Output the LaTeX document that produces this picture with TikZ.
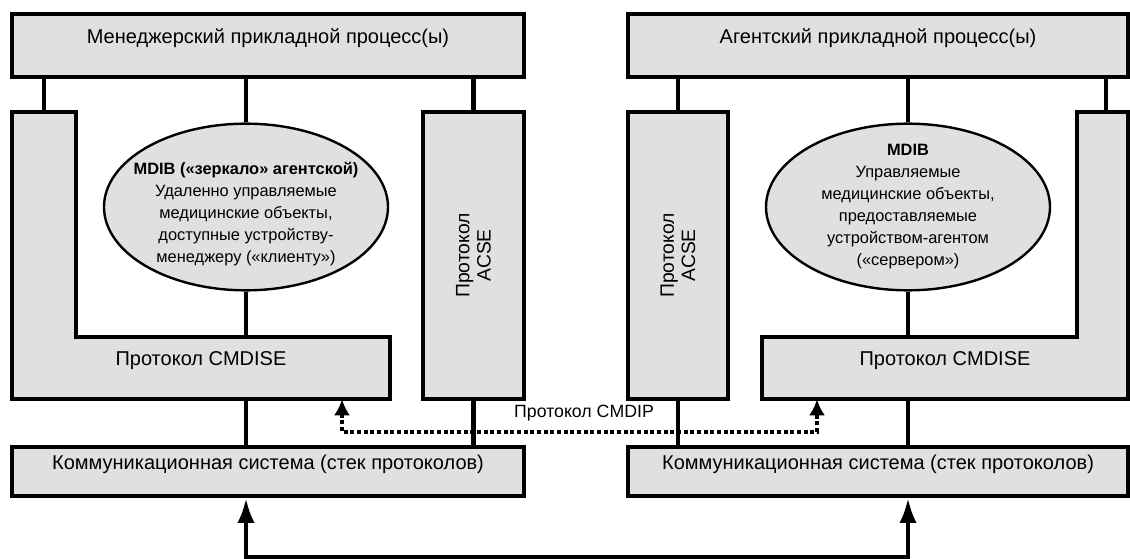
\documentclass[tikz,border=0pt]{standalone}
\usepackage{fontspec}
\setmainfont{Liberation Sans}
\usetikzlibrary{fit,shapes.geometric,arrows.meta}

\begin{document}
\begin{tikzpicture}
\tikzset{box/.style={draw=black,fill=black!12,line width=2.4pt,inner sep=0pt,font=\fontsize{15}{17}\selectfont}}
\tikzset{hidden/.style={inner sep=0pt,font=\fontsize{15}{17}\selectfont}}
\tikzset{lshape/.style={draw=black,fill=black!12,line width=2.4pt}}
\tikzset{link/.style={draw=black,line width=3.6pt}}
\tikzset{mdib/.style={ellipse,draw=black,fill=black!12,line width=1.8pt,inner sep=0pt,minimum width=213pt,minimum height=125pt}}
\tikzset{mdibtext/.style={align=center,font=\fontsize{12.3}{16.5}\selectfont}}
\tikzset{vtext/.style={rotate=90,align=center,font=\fontsize{14.5}{16}\selectfont}}
\tikzset{cmdip/.style={draw=black,line width=2.8pt,dash pattern=on 3pt off 2pt,{Latex[length=12pt,width=12pt]}-{Latex[length=12pt,width=12pt]}}}
\tikzset{bus/.style={draw=black,line width=3.6pt,{Latex[length=19pt,width=13pt]}-{Latex[length=19pt,width=13pt]}}}

\begin{scope}[x={(0.75pt,0pt)},y={(0pt,-0.75pt)}]
\useasboundingbox (0,0) rectangle (1130,559);

% manager side
\node[box,fit={(12,14) (524,77)}] (mgr) {Менеджерский прикладной процесс(ы)};
\path[lshape] (12,112) -- (76,112) -- (76,337) -- (390,337) -- (390,399) -- (12,399) -- cycle;
\node[hidden,fit={(12,112) (76,399)}] (lbarL) {};
\node[hidden,fit={(12,337) (390,399)}] (cmdseL) {Протокол CMDISE};
\node[box,fit={(423,112) (524,399)}] (acseL) {};
\node[vtext] (acseLtxt) at (acseL.center) {Протокол\\ACSE};
\node[mdib] (ellL) at (246,207) {};
\node[mdibtext] (ellLtxt) at (246,214) {\textbf{MDIB («зеркало» агентской)}\\Удаленно управляемые\\медицинские объекты,\\доступные устройству-\\менеджеру («клиенту»)};
\node[box,fit={(12,447) (524,496)}] (commL) {Коммуникационная система (стек протоколов)};

% agent side
\node[box,fit={(628,14) (1128,77)}] (agt) {Агентский прикладной процесс(ы)};
\path[lshape] (1077,112) -- (1128,112) -- (1128,399) -- (762,399) -- (762,337) -- (1077,337) -- cycle;
\coordinate (lbarR) at (1106,112);
\node[hidden,fit={(762,337) (1128,399)}] (cmdseR) {Протокол CMDISE};
\node[box,fit={(628,112) (728,399)}] (acseR) {};
\node[vtext] (acseRtxt) at (acseR.center) {Протокол\\ACSE};
\node[mdib] (ellR) at (908,207) {};
\node[mdibtext] (ellRtxt) at (908,207) {\textbf{MDIB}\\Управляемые\\медицинские объекты,\\предоставляемые\\устройством-агентом\\(«сервером»)};
\node[box,fit={(628,447) (1128,496)}] (commR) {Коммуникационная система (стек протоколов)};

% links
\path[link] (mgr.south -| lbarL.north) -- (lbarL.north);
\path[link] (mgr.south -| ellL.north) -- (ellL.north);
\path[link] (mgr.south -| acseL.north) -- (acseL.north);
\path[link] (ellL.south) -- (ellL.south |- cmdseL.north);
\path[link] (cmdseL.south -| ellL) -- (commL.north -| ellL);
\path[link] (acseL.south) -- (acseL.south |- commL.north);

\path[link] (agt.south -| lbarR) -- (lbarR);
\path[link] (agt.south -| ellR.north) -- (ellR.north);
\path[link] (agt.south -| acseR.north) -- (acseR.north);
\path[link] (ellR.south) -- (ellR.south |- cmdseR.north);
\path[link] (cmdseR.south -| ellR) -- (commR.north -| ellR);
\path[link] (acseR.south) -- (acseR.south |- commR.north);

% CMDIP
\coordinate (dotL) at (342,432);
\coordinate (dotR) at (817,432);
\path[cmdip] (cmdseL.south -| dotL) -- (dotL) -- (dotR) -- (cmdseR.south -| dotR);
\node[font=\fontsize{13.3}{15}\selectfont] (cmdip) at (584,413) {Протокол CMDIP};

% bus
\coordinate (busL) at (246,557);
\coordinate (busR) at (908,557);
\path[bus] (commL.south -| busL) -- (busL) -- (busR) -- (commR.south -| busR);

\end{scope}
\end{tikzpicture}
\end{document}
